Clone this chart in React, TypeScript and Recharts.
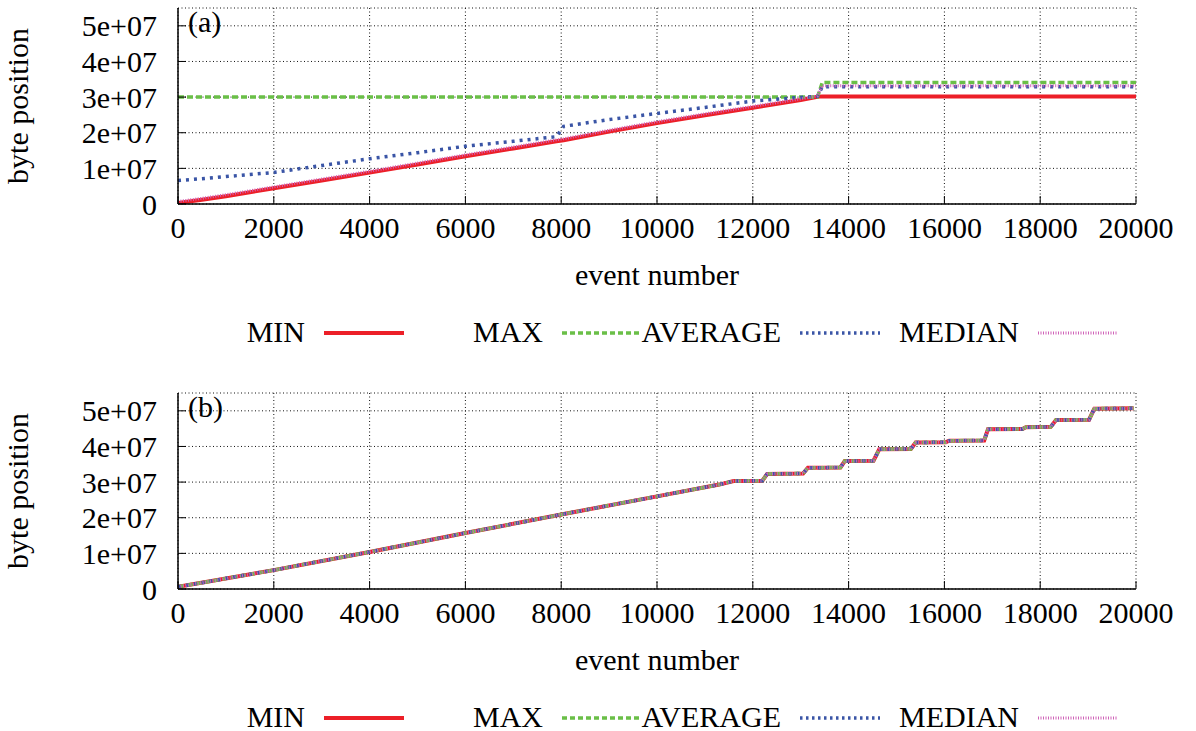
import { LineChart, Line, XAxis, YAxis, CartesianGrid, Legend } from 'recharts'

const FONT = '"Liberation Serif", "DejaVu Serif", serif'

// axes
const xTicks = [0, 2000, 4000, 6000, 8000, 10000, 12000, 14000, 16000, 18000, 20000]
const yTicks = [0, 1e7, 2e7, 3e7, 4e7, 5e7]
const yTickLabels = ['0', '1e+07', '2e+07', '3e+07', '4e+07', '5e+07']
const keyOrder = ['MIN', 'MAX', 'AVERAGE', 'MEDIAN']

// (a) byte positions, in units of 1e7
const eventsA = [0, 500, 1000, 2000, 3000, 4000, 5000, 6000, 7000, 7900, 8050, 9000, 10000, 11000, 12000, 13000, 13350, 13450, 15000, 20000]
const minA = [0.03, 0.12, 0.22, 0.44, 0.66, 0.88, 1.11, 1.34, 1.56, 1.76, 1.79, 2.03, 2.27, 2.49, 2.7, 2.92, 3.01, 3.02, 3.02, 3.02]
const maxA = [3.0, 3.0, 3.0, 3.0, 3.0, 3.0, 3.0, 3.0, 3.0, 3.0, 3.0, 3.0, 3.0, 3.0, 3.0, 3.0, 3.0, 3.41, 3.41, 3.41]
const avgA = [0.66, 0.71, 0.77, 0.885, 1.08, 1.27, 1.44, 1.62, 1.76, 1.89, 2.18, 2.37, 2.54, 2.71, 2.89, 2.99, 3.02, 3.29, 3.29, 3.29]
const medA = [0.07, 0.16, 0.26, 0.48, 0.7, 0.92, 1.15, 1.38, 1.6, 1.8, 1.83, 2.07, 2.31, 2.53, 2.74, 2.95, 3.03, 3.32, 3.32, 3.32]

// (b) all four statistics coincide
const eventsB = [0, 2000, 4000, 6000, 8000, 10000, 11300, 11600, 12200, 12300, 13050, 13150, 13830, 13920, 14520, 14640, 15300, 15400, 16030, 16100, 16830, 16910, 17630, 17700, 18220, 18330, 19020, 19130, 19950]
const posB = [0.06, 0.53, 1.04, 1.57, 2.09, 2.6, 2.93, 3.03, 3.04, 3.23, 3.24, 3.4, 3.41, 3.59, 3.6, 3.92, 3.93, 4.11, 4.12, 4.16, 4.17, 4.48, 4.49, 4.54, 4.55, 4.74, 4.75, 5.06, 5.07]
const minB = posB
const maxB = posB
const avgB = posB
const medB = posB

const STYLE: Record<string, { color: string; width: number; dash?: string; keyDash?: string }> = {
  MIN: { color: '#ec1f28', width: 4 },
  MAX: { color: '#6abf47', width: 3.5, dash: '6 3', keyDash: '5 3' },
  AVERAGE: { color: '#3a55a6', width: 3.5, dash: '3 5', keyDash: '2.5 3.5' },
  MEDIAN: { color: '#cf62b8', width: 3, dash: '1 1.5', keyDash: '1 1.5' },
}

const toPoints = (xs: number[], vs: number[]) => xs.map((x, i) => ({ x, v: vs[i] * 1e7 }))

function GnuKey({ payload }: any) {
  const items = [...(payload || [])].sort((a: any, b: any) => keyOrder.indexOf(a.value) - keyOrder.indexOf(b.value))
  return (
    <div style={{ position: 'relative', width: 1196, height: 40, fontFamily: FONT, fontSize: 30, lineHeight: '40px', color: '#000' }}>
      {items.map((p: any, i: number) => {
        const s = STYLE[p.value]
        const right = 305 + 238 * i
        return (
          <div key={p.value}>
            <span style={{ position: 'absolute', right: 1196 - right, top: 0, whiteSpace: 'nowrap' }}>{p.value}</span>
            <svg style={{ position: 'absolute', left: right + 19, top: 0 }} width={80} height={40}>
              <line x1={0} x2={80} y1={21} y2={21} stroke={s.color} strokeWidth={s.width} strokeDasharray={s.keyDash} />
            </svg>
          </div>
        )
      })}
    </div>
  )
}

function Panel({ tag, series }: { tag: string; series: Array<{ name: string; data: Array<{ x: number; v: number }> }> }) {
  return (
    <div style={{ position: 'relative', width: 1196, height: 385 }}>
      <LineChart width={1196} height={385} margin={{ top: 8, right: 60, bottom: 41, left: 0 }}>
        <CartesianGrid stroke="#111" strokeWidth={1} strokeDasharray="1 2.5" />
        <XAxis
          dataKey="x"
          type="number"
          domain={[0, 20000]}
          ticks={xTicks}
          interval={0}
          height={100}
          tickSize={-8}
          tickMargin={21}
          tick={{ fill: '#000', fontSize: 30, fontFamily: FONT }}
          axisLine={{ stroke: '#000', strokeWidth: 1.5 }}
          tickLine={{ stroke: '#000' }}
          allowDataOverflow
        />
        <XAxis
          xAxisId="top"
          orientation="top"
          dataKey="x"
          type="number"
          domain={[0, 20000]}
          ticks={xTicks}
          interval={0}
          height={0}
          tickSize={-8}
          tick={false}
          axisLine={{ stroke: '#000', strokeWidth: 1.5 }}
          tickLine={{ stroke: '#000' }}
        />
        <YAxis
          type="number"
          domain={[0, 5.5e7]}
          ticks={yTicks}
          interval={0}
          width={178}
          tickSize={-8}
          tickMargin={29}
          tickFormatter={(v: number) => yTickLabels[yTicks.indexOf(v)]}
          tick={{ fill: '#000', fontSize: 30, fontFamily: FONT }}
          axisLine={{ stroke: '#000', strokeWidth: 1.5 }}
          tickLine={{ stroke: '#000' }}
          allowDataOverflow
        />
        <YAxis
          yAxisId="right"
          orientation="right"
          type="number"
          domain={[0, 5.5e7]}
          ticks={yTicks}
          interval={0}
          width={0}
          tickSize={-8}
          tick={false}
          axisLine={{ stroke: '#000', strokeWidth: 1.5 }}
          tickLine={{ stroke: '#000' }}
        />
        {series.map((s) => (
          <Line
            key={s.name}
            name={s.name}
            data={s.data}
            dataKey="v"
            type="linear"
            stroke={STYLE[s.name].color}
            strokeWidth={STYLE[s.name].width}
            strokeDasharray={STYLE[s.name].dash}
            dot={false}
            activeDot={false}
            isAnimationActive={false}
          />
        ))}
        <Legend
          content={<GnuKey />}
          width={1196}
          height={40}
          wrapperStyle={{ left: 0, top: 312, bottom: 'auto', width: 1196, height: 40 }}
        />
      </LineChart>
      <svg width={1196} height={385} style={{ position: 'absolute', left: 0, top: 0, pointerEvents: 'none' }}>
        <g fontFamily={FONT} fontSize={30} fill="#000">
          <text transform="translate(27.5,106) rotate(-90)" textAnchor="middle">byte position</text>
          <text x={657} y={285} textAnchor="middle">event number</text>
          <text x={188} y={32}>{tag}</text>
        </g>
      </svg>
    </div>
  )
}

export default function App() {
  const seriesA = [
    { name: 'MIN', data: toPoints(eventsA, minA) },
    { name: 'MAX', data: toPoints(eventsA, maxA) },
    { name: 'AVERAGE', data: toPoints(eventsA, avgA) },
    { name: 'MEDIAN', data: toPoints(eventsA, medA) },
  ]
  const seriesB = [
    { name: 'MIN', data: toPoints(eventsB, minB) },
    { name: 'MAX', data: toPoints(eventsB, maxB) },
    { name: 'AVERAGE', data: toPoints(eventsB, avgB) },
    { name: 'MEDIAN', data: toPoints(eventsB, medB) },
  ]
  return (
    <div style={{ position: 'absolute', left: 0, top: 0, width: 1196, background: '#fff', fontFamily: FONT }}>
      <Panel tag="(a)" series={seriesA} />
      <Panel tag="(b)" series={seriesB} />
    </div>
  )
}
